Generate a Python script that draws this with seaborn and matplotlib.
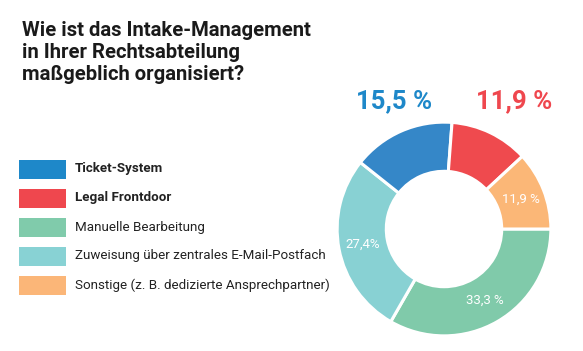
import numpy as np
import matplotlib
matplotlib.use("Agg")
import matplotlib.pyplot as plt
import seaborn as sns

# ---- data ----
title = "Wie ist das Intake-Management\nin Ihrer Rechtsabteilung\nmaßgeblich organisiert?"
legend_labels = ["Ticket-System", "Legal Frontdoor", "Manuelle Bearbeitung",
                 "Zuweisung über zentrales E-Mail-Postfach",
                 "Sonstige (z. B. dedizierte Ansprechpartner)"]
legend_bold = [True, True, False, False, False]
legend_colors = ["#1E88C9", "#EF474E", "#80CBAB", "#88D2D4", "#FBB678"]

# ring order (clockwise from 3 o'clock)
slice_names = ["Manuelle Bearbeitung", "Zuweisung", "Ticket-System", "Legal Frontdoor", "Sonstige"]
slice_values = [33.3, 27.4, 15.5, 11.9, 11.9]
slice_colors = ["#80CAAA", "#88D1D3", "#3587C8", "#EF4A4E", "#FBB777"]
slice_texts = ["33,3 %", "27,4%", "", "", "11,9 %"]
big_texts = ["15,5 %", "11,9 %"]
big_colors = ["#1E88C9", "#EF474E"]

sns.set_theme(style="white")
plt.rcParams["font.family"] = ["Roboto", "DejaVu Sans"]

W, H = 583, 351
fig = plt.figure(figsize=(W / 100, H / 100), dpi=100)
fig.patch.set_facecolor("white")

# title
fig.text(22 / W, 1 - 21 / H, title, ha="left", va="top", fontsize=14.6,
         fontweight="bold", color="#1a1a1a", linespacing=1.2)

# legend
row_y = [169, 198, 227, 256, 285]
for lab, b, c, y in zip(legend_labels, legend_bold, legend_colors, row_y):
    fig.patches.append(matplotlib.patches.Rectangle(
        (19 / W, 1 - (y + 9.5) / H), 47 / W, 19 / H, transform=fig.transFigure,
        facecolor=c, edgecolor="none"))
    fig.text(75 / W, 1 - y / H, lab, ha="left", va="center", fontsize=9.6,
             fontweight="bold" if b else "normal", color="#222222")

# donut
cx, cy, R = 444, 229, 109
ax = fig.add_axes([(cx - R) / W, (H - cy - R) / H, 2 * R / W, 2 * R / H])
wedges, _ = ax.pie(slice_values, colors=slice_colors, startangle=0, counterclock=False,
                   radius=1.0, wedgeprops=dict(width=0.46, edgecolor="white", linewidth=2.2))
ax.set_xlim(-1.02, 1.02)
ax.set_ylim(-1.02, 1.02)
ax.set_aspect("equal")
ax.axis("off")
for w, t in zip(wedges, slice_texts):
    if not t:
        continue
    ang = np.deg2rad((w.theta1 + w.theta2) / 2)
    ax.text(0.77 * np.cos(ang), 0.77 * np.sin(ang), t, ha="center", va="center",
            fontsize=9.5, color="white")

# big labels
fig.text(394 / W, 1 - 101 / H, big_texts[0], ha="center", va="center", fontsize=18.5,
         fontweight="bold", color=big_colors[0])
fig.text(514 / W, 1 - 101 / H, big_texts[1], ha="center", va="center", fontsize=18.5,
         fontweight="bold", color=big_colors[1])

fig.savefig("out.png", dpi=100)
